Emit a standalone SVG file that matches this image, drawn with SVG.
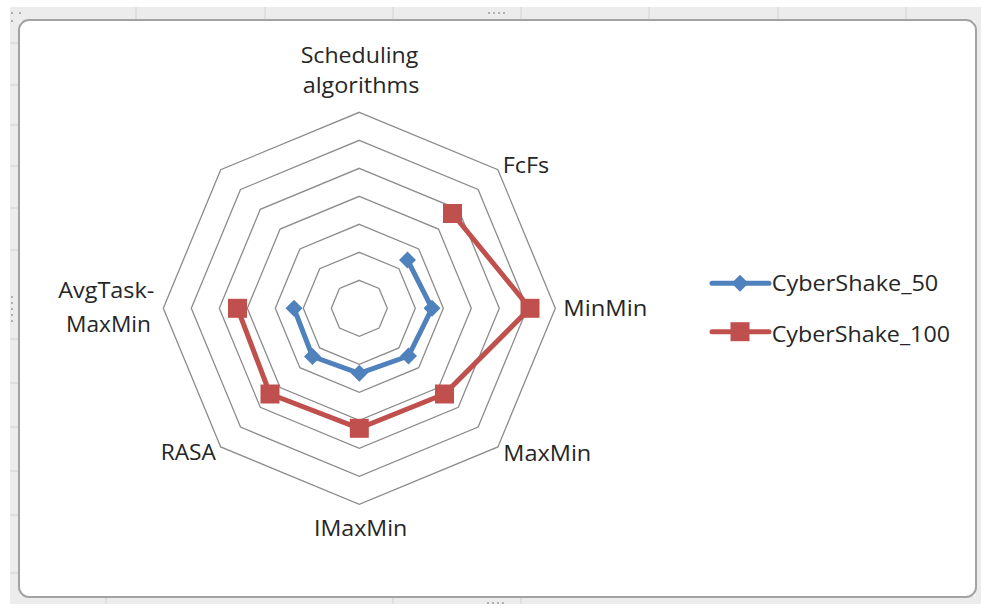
<svg xmlns="http://www.w3.org/2000/svg" width="982" height="608" viewBox="0 0 982 608">
<style>
.band{fill:#ececec}
.tick{stroke:#d2d2d2;stroke-width:1}
.grip{fill:#b0b0b0}
.ring{fill:none;stroke:#8c8c8c;stroke-width:1.3}
.lbl{font-family:"Open Sans","Liberation Sans",sans-serif;font-size:21px;fill:#262626}
.s50{fill:none;stroke:#4F81BD;stroke-width:5;stroke-linejoin:round;stroke-linecap:round}
.s100{fill:none;stroke:#C0504D;stroke-width:5;stroke-linejoin:round;stroke-linecap:round}
.m50{fill:#4F81BD}
.m100{fill:#C0504D}
</style>
<defs>
<polygon id="dia" points="0,-8.5 8.5,0 0,8.5 -8.5,0"/>
<rect id="sq" x="-9.5" y="-9.5" width="19" height="19"/>
</defs>
<rect width="982" height="608" fill="#ffffff"/>
<g id="frame">
<rect class="band" x="10" y="7" width="971" height="14"/>
<rect class="band" x="10" y="7" width="10" height="597"/>
<rect class="band" x="10" y="596" width="971" height="8"/>
<rect class="band" x="975" y="7" width="6" height="597"/>
<g class="tick">
<line x1="136" y1="7" x2="136" y2="20"/><line x1="265" y1="7" x2="265" y2="20"/><line x1="393" y1="7" x2="393" y2="20"/><line x1="521" y1="7" x2="521" y2="20"/><line x1="649" y1="7" x2="649" y2="20"/><line x1="778" y1="7" x2="778" y2="20"/><line x1="906" y1="7" x2="906" y2="20"/>
<line x1="10" y1="43" x2="19" y2="43"/><line x1="10" y1="85" x2="19" y2="85"/><line x1="10" y1="125" x2="19" y2="125"/><line x1="10" y1="166" x2="19" y2="166"/><line x1="10" y1="208" x2="19" y2="208"/><line x1="10" y1="250" x2="19" y2="250"/><line x1="10" y1="339" x2="19" y2="339"/><line x1="10" y1="383" x2="19" y2="383"/><line x1="10" y1="427" x2="19" y2="427"/><line x1="10" y1="471" x2="19" y2="471"/><line x1="10" y1="515" x2="19" y2="515"/><line x1="10" y1="573" x2="19" y2="573"/>
<line x1="106" y1="597" x2="106" y2="604"/><line x1="393" y1="597" x2="393" y2="604"/><line x1="521" y1="597" x2="521" y2="604"/>
</g>
<g class="grip">
<rect x="11" y="12" width="2" height="2"/><rect x="19" y="12" width="2" height="2"/><rect x="11" y="20" width="2" height="2"/>
<rect x="488" y="12" width="2" height="2"/><rect x="493" y="12" width="2" height="2"/><rect x="498" y="12" width="2" height="2"/><rect x="503" y="12" width="2" height="2"/>
<rect x="487" y="602" width="2" height="2"/><rect x="492" y="602" width="2" height="2"/><rect x="497" y="602" width="2" height="2"/><rect x="502" y="602" width="2" height="2"/>
<rect x="11" y="296" width="2" height="2"/><rect x="11" y="302" width="2" height="2"/><rect x="11" y="308" width="2" height="2"/><rect x="11" y="314" width="2" height="2"/><rect x="11" y="320" width="2" height="2"/>
</g>
<rect x="19" y="20" width="957" height="577" rx="10" ry="10" fill="#ffffff" stroke="#a3a3a3" stroke-width="2"/>
</g>
<g id="grid">
<polygon class="ring" points="359.3,280.3 379.1,288.5 387.3,308.3 379.1,328.1 359.3,336.3 339.5,328.1 331.3,308.3 339.5,288.5"/>
<polygon class="ring" points="359.3,252.3 398.9,268.7 415.3,308.3 398.9,347.9 359.3,364.3 319.7,347.9 303.3,308.3 319.7,268.7"/>
<polygon class="ring" points="359.3,224.3 418.7,248.9 443.3,308.3 418.7,367.7 359.3,392.3 299.9,367.7 275.3,308.3 299.9,248.9"/>
<polygon class="ring" points="359.3,196.3 438.5,229.1 471.3,308.3 438.5,387.5 359.3,420.3 280.1,387.5 247.3,308.3 280.1,229.1"/>
<polygon class="ring" points="359.3,168.3 458.3,209.3 499.3,308.3 458.3,407.3 359.3,448.3 260.3,407.3 219.3,308.3 260.3,209.3"/>
<polygon class="ring" points="359.3,140.3 478.1,189.5 527.3,308.3 478.1,427.1 359.3,476.3 240.5,427.1 191.3,308.3 240.5,189.5"/>
<polygon class="ring" points="359.3,112.3 497.9,169.7 555.3,308.3 497.9,446.9 359.3,504.3 220.7,446.9 163.3,308.3 220.7,169.7"/>
</g>
<g id="axis-labels" class="lbl">
<text x="300.7" y="63" textLength="117.6" lengthAdjust="spacingAndGlyphs">Scheduling</text>
<text x="302.7" y="93" textLength="116.6" lengthAdjust="spacingAndGlyphs">algorithms</text>
<text x="502.7" y="173" textLength="46.6" lengthAdjust="spacingAndGlyphs">FcFs</text>
<text x="563.3" y="316" textLength="84" lengthAdjust="spacingAndGlyphs">MinMin</text>
<text x="503.3" y="460.7" textLength="88" lengthAdjust="spacingAndGlyphs">MaxMin</text>
<text x="314" y="536" textLength="93.3" lengthAdjust="spacingAndGlyphs">IMaxMin</text>
<text x="160.7" y="460" textLength="55.3" lengthAdjust="spacingAndGlyphs">RASA</text>
<text x="58.3" y="298.3" textLength="96" lengthAdjust="spacingAndGlyphs">AvgTask-</text>
<text x="66" y="331.7" textLength="85" lengthAdjust="spacingAndGlyphs">MaxMin</text>
</g>
<g id="series-CyberShake_100">
<polyline class="s100" points="452.5,213.5 530,308.3 444.5,394 359.3,428.3 270,394 237.5,308.3"/>
<use href="#sq" class="m100" x="452.5" y="213.5"/>
<use href="#sq" class="m100" x="530" y="308.3"/>
<use href="#sq" class="m100" x="444.5" y="394"/>
<use href="#sq" class="m100" x="359.3" y="428.3"/>
<use href="#sq" class="m100" x="270" y="394"/>
<use href="#sq" class="m100" x="237.5" y="308.3"/>
</g>
<g id="series-CyberShake_50">
<polyline class="s50" points="407.5,260 432,308.3 408.5,356 359.3,373.3 312.5,356.5 294,308.3"/>
<use href="#dia" class="m50" x="407.5" y="260"/>
<use href="#dia" class="m50" x="432" y="308.3"/>
<use href="#dia" class="m50" x="408.5" y="356"/>
<use href="#dia" class="m50" x="359.3" y="373.3"/>
<use href="#dia" class="m50" x="312.5" y="356.5"/>
<use href="#dia" class="m50" x="294" y="308.3"/>
</g>
<g id="legend">
<g id="legend-50">
<line class="s50" x1="712" y1="283.3" x2="769" y2="283.3"/>
<use href="#dia" class="m50" x="740" y="283.3"/>
<text class="lbl" x="771.7" y="290.7" textLength="166.6" lengthAdjust="spacingAndGlyphs">CyberShake_50</text>
</g>
<g id="legend-100">
<line class="s100" x1="712" y1="331.7" x2="769" y2="331.7"/>
<use href="#sq" class="m100" x="740" y="331.7"/>
<text class="lbl" x="771.7" y="341.7" textLength="178.3" lengthAdjust="spacingAndGlyphs">CyberShake_100</text>
</g>
</g>
</svg>
